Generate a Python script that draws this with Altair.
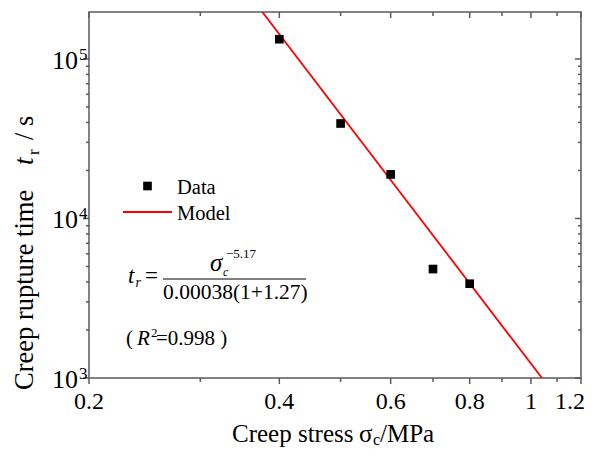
import altair as alt
import pandas as pd

# ---- data ----
stress = [0.4, 0.5, 0.6, 0.7, 0.8]
rupture_time = [133000, 39400, 18900, 4820, 3900]
model_stress = [0.376, 1.041]
model_time = [197000, 1000]

x_major = [0.2, 0.4, 0.6, 0.8, 1.0]
x_major_labels = ["0.2", "0.4", "0.6", "0.8", "1"]
x_last = [1.2]
x_last_labels = ["1.2"]
x_minor = [0.3, 0.5, 0.7, 0.9, 1.1]
y_major = [1000, 10000, 100000]
y_major_exp = ["3", "4", "5"]
y_minor = [2000, 3000, 4000, 5000, 6000, 7000, 8000, 9000,
           20000, 30000, 40000, 50000, 60000, 70000, 80000, 90000]

W, H = 492, 366
FONT = "Liberation Serif"
AX = "#5a5a5a"

xs = alt.Scale(type="log", domain=[0.2, 1.2], nice=False)
ys = alt.Scale(type="log", domain=[1000, 197000], nice=False)


def X(f):
    return alt.X(f"{f}:Q", scale=xs, axis=None)


def Y(f):
    return alt.Y(f"{f}:Q", scale=ys, axis=None)


pts = pd.DataFrame({"s": stress, "t": rupture_time})
mdl = pd.DataFrame({"s": model_stress, "t": model_time})
xmaj = pd.DataFrame({"v": x_major + x_last})
xlab = pd.DataFrame({"v": x_major, "lab": x_major_labels})
xlast = pd.DataFrame({"v": x_last, "lab": x_last_labels})
xmin = pd.DataFrame({"v": x_minor})
ymaj = pd.DataFrame({"v": y_major, "e": y_major_exp})
ymin = pd.DataFrame({"v": y_minor})
one = pd.DataFrame({"a": [0]})


def label(text, x, y, size, align="left", style="normal", angle=0):
    return alt.Chart(pd.DataFrame({"t": [text]})).mark_text(
        align=align, baseline="alphabetic", font=FONT, fontSize=size,
        fontStyle=style, angle=angle, color="black"
    ).encode(x=alt.value(x), y=alt.value(y), text="t:N")


layers = []

# model line and data
layers.append(alt.Chart(mdl).mark_line(color="#ff0000", strokeWidth=1.8, clip=True)
              .encode(x=X("s"), y=Y("t")))
layers.append(alt.Chart(pts).mark_point(shape="square", filled=True, color="black",
                                         size=75, opacity=1)
              .encode(x=X("s"), y=Y("t")))

# ticks (bottom/left outward, top/right inward)
rs = dict(color=AX, strokeWidth=1.5)
layers.append(alt.Chart(xmaj).mark_rule(**rs).encode(x=X("v"), y=alt.value(H), y2=alt.value(H + 6)))
layers.append(alt.Chart(xmin).mark_rule(**rs).encode(x=X("v"), y=alt.value(H), y2=alt.value(H + 4)))
layers.append(alt.Chart(xmaj).mark_rule(**rs).encode(x=X("v"), y=alt.value(0), y2=alt.value(6)))
layers.append(alt.Chart(xmin).mark_rule(**rs).encode(x=X("v"), y=alt.value(0), y2=alt.value(4)))
layers.append(alt.Chart(ymaj).mark_rule(**rs).encode(y=Y("v"), x=alt.value(0), x2=alt.value(-6)))
layers.append(alt.Chart(ymin).mark_rule(**rs).encode(y=Y("v"), x=alt.value(0), x2=alt.value(-3)))
layers.append(alt.Chart(ymaj).mark_rule(**rs).encode(y=Y("v"), x=alt.value(W), x2=alt.value(W - 6)))
layers.append(alt.Chart(ymin).mark_rule(**rs).encode(y=Y("v"), x=alt.value(W), x2=alt.value(W - 3)))

# tick labels
layers.append(alt.Chart(xlab).mark_text(align="center", baseline="alphabetic", font=FONT,
                                         fontSize=24, color="black")
              .encode(x=X("v"), y=alt.value(H + 31), text="lab:N"))
layers.append(alt.Chart(xlast).mark_text(align="right", baseline="alphabetic", font=FONT,
                                          fontSize=24, color="black", dx=4)
              .encode(x=X("v"), y=alt.value(H + 31), text="lab:N"))
layers.append(alt.Chart(ymaj).mark_text(align="right", baseline="alphabetic", font=FONT,
                                         fontSize=26, color="black", dy=10)
              .encode(y=Y("v"), x=alt.value(-11), text=alt.value("10")))
layers.append(alt.Chart(ymaj).mark_text(align="left", baseline="alphabetic", font=FONT,
                                         fontSize=17, color="black", dy=1)
              .encode(y=Y("v"), x=alt.value(-10), text="e:N"))

# axis titles
layers += [
    label("Creep stress", 143, 430, 25),
    label("\u03c3", 270, 430, 25),
    label("c", 284, 433, 16),
    label("/MPa", 291, 430, 25),
    label("Creep rupture time", -56, 378, 26.5, angle=270),
    label("t", -56, 153, 27, style="italic", angle=270),
    label("r", -50, 143, 17, angle=270),
    label("/ s", -56, 128, 26.5, angle=270),
]

# legend
layers.append(alt.Chart(one).mark_point(shape="square", filled=True, color="black",
                                         size=75, opacity=1)
              .encode(x=alt.value(58.5), y=alt.value(174)))
layers.append(alt.Chart(one).mark_rule(color="#ff0000", strokeWidth=1.8)
              .encode(x=alt.value(34), x2=alt.value(83), y=alt.value(200)))
layers += [label("Data", 88, 182, 20.5), label("Model", 88, 208, 20.5)]

# equation
layers += [
    label("t", 39, 271, 23, style="italic"),
    label("r", 46.5, 275, 14, style="italic"),
    label("=", 56, 271, 23),
    label("\u03c3", 121, 259, 25, style="italic"),
    label("c", 134, 264, 12, style="italic"),
    label("\u22125.17", 137, 246, 13),
    label("0.00038(1+1.27)", 74, 287, 21.5),
    label("( ", 37, 333, 21),
    label("R", 48, 333, 21, style="italic"),
    label("2", 62, 325, 13),
    label("=0.998 )", 67, 333, 21),
]
layers.append(alt.Chart(one).mark_rule(color="black", strokeWidth=1)
              .encode(x=alt.value(74), x2=alt.value(217), y=alt.value(267)))

chart = alt.layer(*layers).properties(
    width=W, height=H,
    autosize=alt.AutoSizeParams(type="none"),
    padding={"left": 81, "top": 4, "right": 4, "bottom": 70},
).configure_view(stroke=AX, strokeWidth=1.5)

chart.save("out.html", embed_options={"renderer": "svg", "actions": False})
